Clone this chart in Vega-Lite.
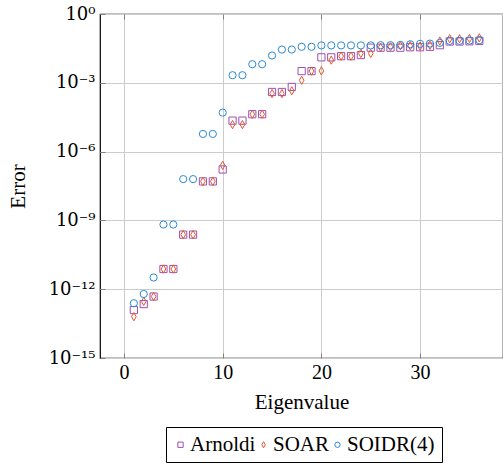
{
  "$schema": "https://vega.github.io/schema/vega-lite/v6.json",
  "width": 403,
  "height": 344,
  "autosize": {"type": "none"},
  "padding": {"left": 100, "top": 14, "right": 0, "bottom": 106},
  "background": "white",
  "config": {
    "font": "Liberation Serif",
    "view": {"stroke": "black", "strokeWidth": 1.2},
    "axis": {
      "labelFont": "Liberation Serif",
      "titleFont": "Liberation Serif",
      "labelFontSize": 20,
      "titleFontSize": 21,
      "titleFontWeight": "normal",
      "labelColor": "black",
      "titleColor": "black",
      "domain": false,
      "gridColor": "#cccccc",
      "gridWidth": 1,
      "tickColor": "#808080",
      "tickSize": -5,
      "tickWidth": 1
    },
    "legend": {
      "labelFont": "Liberation Serif",
      "labelFontSize": 21,
      "labelColor": "black"
    }
  },
  "data": {
    "values": [
      {"m": "Arnoldi", "k": 1, "e": 1.23e-13},
      {"m": "Arnoldi", "k": 2, "e": 2.24e-13},
      {"m": "Arnoldi", "k": 3, "e": 4.79e-13},
      {"m": "Arnoldi", "k": 4, "e": 7.59e-12},
      {"m": "Arnoldi", "k": 5, "e": 7.59e-12},
      {"m": "Arnoldi", "k": 6, "e": 2.40e-10},
      {"m": "Arnoldi", "k": 7, "e": 2.40e-10},
      {"m": "Arnoldi", "k": 8, "e": 5.01e-8},
      {"m": "Arnoldi", "k": 9, "e": 5.01e-8},
      {"m": "Arnoldi", "k": 10, "e": 1.66e-7},
      {"m": "Arnoldi", "k": 11, "e": 2.24e-5},
      {"m": "Arnoldi", "k": 12, "e": 2.24e-5},
      {"m": "Arnoldi", "k": 13, "e": 4.27e-5},
      {"m": "Arnoldi", "k": 14, "e": 4.27e-5},
      {"m": "Arnoldi", "k": 15, "e": 3.98e-4},
      {"m": "Arnoldi", "k": 16, "e": 3.98e-4},
      {"m": "Arnoldi", "k": 17, "e": 6.61e-4},
      {"m": "Arnoldi", "k": 18, "e": 3.24e-3},
      {"m": "Arnoldi", "k": 19, "e": 3.24e-3},
      {"m": "Arnoldi", "k": 20, "e": 1.29e-2},
      {"m": "Arnoldi", "k": 21, "e": 1.29e-2},
      {"m": "Arnoldi", "k": 22, "e": 1.45e-2},
      {"m": "Arnoldi", "k": 23, "e": 1.45e-2},
      {"m": "Arnoldi", "k": 24, "e": 1.62e-2},
      {"m": "Arnoldi", "k": 25, "e": 3.39e-2},
      {"m": "Arnoldi", "k": 26, "e": 3.39e-2},
      {"m": "Arnoldi", "k": 27, "e": 3.39e-2},
      {"m": "Arnoldi", "k": 28, "e": 3.39e-2},
      {"m": "Arnoldi", "k": 29, "e": 3.55e-2},
      {"m": "Arnoldi", "k": 30, "e": 3.55e-2},
      {"m": "Arnoldi", "k": 31, "e": 3.72e-2},
      {"m": "Arnoldi", "k": 32, "e": 4.37e-2},
      {"m": "Arnoldi", "k": 33, "e": 6.31e-2},
      {"m": "Arnoldi", "k": 34, "e": 6.31e-2},
      {"m": "Arnoldi", "k": 35, "e": 6.46e-2},
      {"m": "Arnoldi", "k": 36, "e": 6.76e-2},
      {"m": "SOAR", "k": 1, "e": 6.31e-14},
      {"m": "SOAR", "k": 2, "e": 2.95e-13},
      {"m": "SOAR", "k": 3, "e": 4.79e-13},
      {"m": "SOAR", "k": 4, "e": 7.59e-12},
      {"m": "SOAR", "k": 5, "e": 7.59e-12},
      {"m": "SOAR", "k": 6, "e": 2.40e-10},
      {"m": "SOAR", "k": 7, "e": 2.40e-10},
      {"m": "SOAR", "k": 8, "e": 5.01e-8},
      {"m": "SOAR", "k": 9, "e": 5.01e-8},
      {"m": "SOAR", "k": 10, "e": 2.51e-7},
      {"m": "SOAR", "k": 11, "e": 1.51e-5},
      {"m": "SOAR", "k": 12, "e": 1.51e-5},
      {"m": "SOAR", "k": 13, "e": 4.27e-5},
      {"m": "SOAR", "k": 14, "e": 4.27e-5},
      {"m": "SOAR", "k": 15, "e": 3.39e-4},
      {"m": "SOAR", "k": 16, "e": 3.39e-4},
      {"m": "SOAR", "k": 17, "e": 4.47e-4},
      {"m": "SOAR", "k": 18, "e": 1.29e-3},
      {"m": "SOAR", "k": 19, "e": 3.24e-3},
      {"m": "SOAR", "k": 20, "e": 3.31e-3},
      {"m": "SOAR", "k": 21, "e": 9.77e-3},
      {"m": "SOAR", "k": 22, "e": 1.45e-2},
      {"m": "SOAR", "k": 23, "e": 1.45e-2},
      {"m": "SOAR", "k": 24, "e": 1.91e-2},
      {"m": "SOAR", "k": 25, "e": 1.91e-2},
      {"m": "SOAR", "k": 26, "e": 3.47e-2},
      {"m": "SOAR", "k": 27, "e": 3.72e-2},
      {"m": "SOAR", "k": 28, "e": 4.17e-2},
      {"m": "SOAR", "k": 29, "e": 4.17e-2},
      {"m": "SOAR", "k": 30, "e": 3.98e-2},
      {"m": "SOAR", "k": 31, "e": 4.37e-2},
      {"m": "SOAR", "k": 32, "e": 6.61e-2},
      {"m": "SOAR", "k": 33, "e": 8.32e-2},
      {"m": "SOAR", "k": 34, "e": 8.32e-2},
      {"m": "SOAR", "k": 35, "e": 8.51e-2},
      {"m": "SOAR", "k": 36, "e": 9.12e-2},
      {"m": "SOIDR(4)", "k": 1, "e": 2.45e-13},
      {"m": "SOIDR(4)", "k": 2, "e": 6.17e-13},
      {"m": "SOIDR(4)", "k": 3, "e": 3.24e-12},
      {"m": "SOIDR(4)", "k": 4, "e": 6.61e-10},
      {"m": "SOIDR(4)", "k": 5, "e": 6.61e-10},
      {"m": "SOIDR(4)", "k": 6, "e": 6.31e-8},
      {"m": "SOIDR(4)", "k": 7, "e": 6.31e-8},
      {"m": "SOIDR(4)", "k": 8, "e": 5.89e-6},
      {"m": "SOIDR(4)", "k": 9, "e": 5.89e-6},
      {"m": "SOIDR(4)", "k": 10, "e": 5.01e-5},
      {"m": "SOIDR(4)", "k": 11, "e": 2.14e-3},
      {"m": "SOIDR(4)", "k": 12, "e": 2.14e-3},
      {"m": "SOIDR(4)", "k": 13, "e": 6.46e-3},
      {"m": "SOIDR(4)", "k": 14, "e": 6.46e-3},
      {"m": "SOIDR(4)", "k": 15, "e": 1.55e-2},
      {"m": "SOIDR(4)", "k": 16, "e": 2.82e-2},
      {"m": "SOIDR(4)", "k": 17, "e": 2.82e-2},
      {"m": "SOIDR(4)", "k": 18, "e": 3.72e-2},
      {"m": "SOIDR(4)", "k": 19, "e": 3.72e-2},
      {"m": "SOIDR(4)", "k": 20, "e": 4.27e-2},
      {"m": "SOIDR(4)", "k": 21, "e": 4.27e-2},
      {"m": "SOIDR(4)", "k": 22, "e": 4.27e-2},
      {"m": "SOIDR(4)", "k": 23, "e": 4.27e-2},
      {"m": "SOIDR(4)", "k": 24, "e": 4.27e-2},
      {"m": "SOIDR(4)", "k": 25, "e": 4.27e-2},
      {"m": "SOIDR(4)", "k": 26, "e": 4.37e-2},
      {"m": "SOIDR(4)", "k": 27, "e": 4.37e-2},
      {"m": "SOIDR(4)", "k": 28, "e": 4.47e-2},
      {"m": "SOIDR(4)", "k": 29, "e": 4.79e-2},
      {"m": "SOIDR(4)", "k": 30, "e": 5.01e-2},
      {"m": "SOIDR(4)", "k": 31, "e": 5.13e-2},
      {"m": "SOIDR(4)", "k": 32, "e": 5.50e-2},
      {"m": "SOIDR(4)", "k": 33, "e": 6.76e-2},
      {"m": "SOIDR(4)", "k": 34, "e": 6.76e-2},
      {"m": "SOIDR(4)", "k": 35, "e": 6.92e-2},
      {"m": "SOIDR(4)", "k": 36, "e": 7.24e-2}
    ]
  },
  "layer": [
    {
      "mark": {"type": "point", "filled": false, "strokeWidth": 1, "size": 52, "opacity": 1, "clip": true},
      "encoding": {
        "x": {
          "field": "k",
          "type": "quantitative",
          "scale": {"domain": [-2.43, 38.4], "nice": false, "zero": false},
          "axis": {
            "title": "Eigenvalue",
            "values": [0, 10, 20, 30],
            "labelPadding": 9,
            "titlePadding": 9
          }
        },
        "y": {
          "field": "e",
          "type": "quantitative",
          "scale": {"type": "log", "domain": [1e-15, 1], "nice": false},
          "axis": {
            "title": "Error",
            "values": [1e-15, 1e-12, 1e-9, 1e-6, 1e-3, 1],
            "labelExpr": "datum.value >= 0.5 ? '10⁰' : datum.value >= 5e-4 ? '10⁻³' : datum.value >= 5e-7 ? '10⁻⁶' : datum.value >= 5e-10 ? '10⁻⁹' : datum.value >= 5e-13 ? '10⁻¹²' : '10⁻¹⁵'",
            "labelFont": "DejaVu Serif",
            "labelFontSize": 18,
            "labelPadding": 10,
            "titleX": -72,
            "titleY": 172
          }
        },
        "color": {
          "field": "m",
          "type": "nominal",
          "scale": {"domain": ["Arnoldi", "SOAR", "SOIDR(4)"], "range": ["#9c4fb4", "#e4572e", "#2a8ad4"]},
          "legend": {
            "title": null,
            "orient": "none",
            "direction": "horizontal",
            "legendX": 66,
            "legendY": 413,
            "strokeColor": "black",
            "padding": 7,
            "symbolSize": 28,
            "symbolStrokeWidth": 1,
            "symbolOffset": -3,
            "columnPadding": 0,
            "labelOffset": -1
          }
        },
        "shape": {
          "field": "m",
          "type": "nominal",
          "scale": {"domain": ["Arnoldi", "SOAR", "SOIDR(4)"], "range": ["square", "M0,-1.15L0.65,0L0,1.15L-0.65,0Z", "circle"]}
        }
      }
    },
    {
      "mark": {"type": "point", "opacity": 0},
      "encoding": {
        "x": {
          "field": "k",
          "type": "quantitative",
          "axis": {"orient": "top", "values": [0, 10, 20, 30], "labels": false, "title": null, "grid": false}
        }
      }
    }
  ],
  "resolve": {"axis": {"x": "independent"}}
}
